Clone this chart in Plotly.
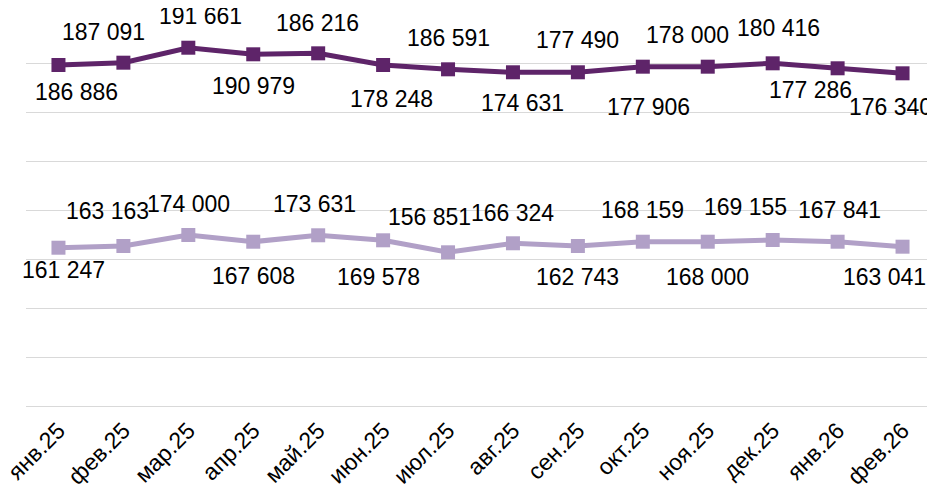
import plotly.graph_objects as go

months = ["янв.25", "фев.25", "мар.25", "апр.25", "май.25", "июн.25", "июл.25",
          "авг.25", "сен.25", "окт.25", "ноя.25", "дек.25", "янв.26", "фев.26"]

# plotted positions (hidden axis units)
upper_values = [186990, 187580, 191400, 189720, 189970, 186990, 185890,
                185130, 185130, 186560, 186560, 187420, 186150, 184870]
lower_values = [140380, 140820, 143620, 141910, 143550, 142270, 139210,
                141510, 140820, 141910, 141910, 142350, 141910, 140640]

# data labels shown on the chart
upper_labels = ["186 886", "187 091", "191 661", "190 979", "186 216", "178 248", "186 591",
                "174 631", "177 490", "177 906", "178 000", "180 416", "177 286", "176 340"]
lower_labels = ["161 247", "163 163", "174 000", "167 608", "173 631", "169 578", "156 851",
                "166 324", "162 743", "168 159", "168 000", "169 155", "167 841", "163 041"]

# label offsets in pixels (dx right, dy down) - styling only
upper_off = [(18, 27), (-20, -31), (12, -32), (0, 32), (-1, -30), (8, 34), (0, -31),
             (10, 31), (0, -32), (6, 40), (-20, -32), (6, -35), (-27, 22), (-12, 34)]
lower_off = [(5, 22), (-16, -35), (0, -31), (0, 34), (-4, -31), (-5, 37), (-19, -35),
             (0, -30), (0, 31), (0, -32), (0, 35), (-27, -33), (2, -32), (-18, 30)]

DARK = "#5E2469"
LIGHT = "#B1A0C7"
FONT = "Liberation Sans, Arial, sans-serif"

fig = go.Figure()
fig.add_trace(go.Scatter(x=list(range(len(months))), y=upper_values, mode="lines+markers",
                         line=dict(color=DARK, width=5),
                         marker=dict(symbol="square", size=14, color=DARK),
                         hoverinfo="skip", showlegend=False))
fig.add_trace(go.Scatter(x=list(range(len(months))), y=lower_values, mode="lines+markers",
                         line=dict(color=LIGHT, width=5),
                         marker=dict(symbol="square", size=14, color=LIGHT),
                         hoverinfo="skip", showlegend=False))

annotations = []
for vals, labs, offs in ((upper_values, upper_labels, upper_off),
                         (lower_values, lower_labels, lower_off)):
    for i, (v, t, (dx, dy)) in enumerate(zip(vals, labs, offs)):
        annotations.append(dict(x=i, y=v, text=t, showarrow=False,
                                xanchor="center", yanchor="middle",
                                xshift=dx, yshift=-dy,
                                font=dict(family=FONT, size=23, color="#000000")))

# page body has an 8px default margin: figure is sized to fill the rest of the window
fig.update_layout(
    width=927, height=482,
    margin=dict(l=18, r=0, t=6, b=76),
    paper_bgcolor="white", plot_bgcolor="white",
    annotations=annotations,
    xaxis=dict(range=[-0.5, len(months) - 0.5], tickmode="array",
               tickvals=list(range(len(months))), ticktext=months,
               tickangle=-45, showgrid=False, zeroline=False, showline=False,
               automargin=False, ticklabeloverflow="allow",
               anchor="free", position=0.02,
               ticks="outside", ticklen=1, tickcolor="rgba(0,0,0,0)",
               tickfont=dict(family=FONT, size=23, color="#000000")),
    yaxis=dict(range=[97959, 200000], dtick=12500, tick0=100000,
               showticklabels=False, showgrid=True, gridcolor="#D9D9D9", gridwidth=1.3,
               zeroline=False, showline=False, automargin=False),
)

fig.write_html("out.html")
